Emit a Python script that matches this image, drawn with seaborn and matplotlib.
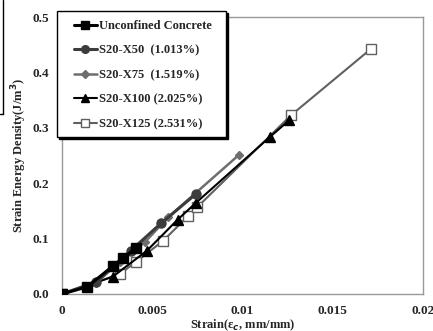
import matplotlib
matplotlib.use("Agg")
import matplotlib.pyplot as plt
import matplotlib.patches as mpatches
import matplotlib.lines as mlines
import seaborn as sns
import pandas as pd

sns.set_style("white")
plt.rcParams['font.family'] = ['Liberation Serif', 'DejaVu Serif']
plt.rcParams['font.weight'] = 'bold'

labels = ["Unconfined Concrete", "S20-X50  (1.013%)", "S20-X75  (1.519%)",
          "S20-X100 (2.025%)", "S20-X125 (2.531%)"]

unc_x = [0, 0.0014, 0.0028, 0.0034, 0.0041]
unc_y = [0, 0.013, 0.050, 0.065, 0.083]
x50_x = [0, 0.0019, 0.0038, 0.0055, 0.0074]
x50_y = [0, 0.022, 0.078, 0.128, 0.180]
x75_x = [0, 0.0019, 0.0032, 0.0046, 0.0059, 0.0098]
x75_y = [0, 0.020, 0.058, 0.094, 0.139, 0.251]
x100_x = [0, 0.0028, 0.0047, 0.0064, 0.0074, 0.0115, 0.0126]
x100_y = [0, 0.031, 0.078, 0.134, 0.164, 0.283, 0.314]
x125_x = [0, 0.0032, 0.0041, 0.0056, 0.0070, 0.0075, 0.0127, 0.0171]
x125_y = [0, 0.036, 0.058, 0.096, 0.141, 0.157, 0.323, 0.442]

series = [(unc_x, unc_y), (x50_x, x50_y), (x75_x, x75_y), (x100_x, x100_y), (x125_x, x125_y)]
styles = [
    dict(color="#000000", marker="s", markersize=7.5, mfc="#000000", mec="#000000", lw=2.2),
    dict(color="#3c3c3c", marker="o", markersize=6.5, mfc="#3c3c3c", mec="#3c3c3c", lw=2.2),
    dict(color="#6e6e6e", marker="D", markersize=4.5, mfc="#6e6e6e", mec="#6e6e6e", lw=1.8),
    dict(color="#000000", marker="^", markersize=6.5, mfc="#000000", mec="#000000", lw=1.5),
    dict(color="#606060", marker="s", markersize=6.5, mfc="white", mec="#606060", lw=1.5),
]

W, H = 433, 331
fig = plt.figure(figsize=(W/100, H/100), dpi=100)
ax = fig.add_axes([62/W, 1-294/H, (423-62)/W, (294-17)/H])

order = [4, 3, 2, 1, 0]
handles = {}
for i in order:
    xs, ys = series[i]
    df = pd.DataFrame({"x": xs, "y": ys})
    st = styles[i]
    sns.lineplot(data=df, x="x", y="y", ax=ax, sort=False, color=st["color"],
                 marker=st["marker"], markersize=st["markersize"],
                 markerfacecolor=st["mfc"], markeredgecolor=st["mec"],
                 markeredgewidth=1.0, linewidth=st["lw"], zorder=3 + (4 - i))
    handles[i] = ax.lines[-1]

ax.set_xlim(0, 0.02)
ax.set_ylim(0, 0.5)
ax.set_xticks([0, 0.005, 0.01, 0.015, 0.02])
ax.set_xticklabels(["0", "0.005", "0.01", "0.015", "0.02"])
ax.set_yticks([0, 0.1, 0.2, 0.3, 0.4, 0.5])
ax.set_yticklabels(["0.0", "0.1", "0.2", "0.3", "0.4", "0.5"])
ax.tick_params(axis="x", direction="in", length=4, color="#999999", labelsize=9.5, pad=8)
ax.tick_params(axis="y", direction="in", length=4, color="#999999", labelsize=9.5, pad=9)
for lab in ax.get_xticklabels() + ax.get_yticklabels():
    lab.set_fontweight("bold")
for sp in ax.spines.values():
    sp.set_color("#999999")
    sp.set_linewidth(1.0)

ax.set_xlabel("Strain(ε$_c$, mm/mm)", fontsize=9, fontweight="bold", labelpad=0)
ax.set_ylabel("Strain Energy Density(J/m$^3$)", fontsize=9, fontweight="bold", labelpad=3)

# legend box (frame drawn separately, with dark shadow)
lx0, ly0, lx1, ly1 = 57, 11, 226, 137
fig.patches.append(mpatches.Rectangle(((lx0 + 2) / W, 1 - (ly1 + 2) / H),
                                      (lx1 - lx0) / W, (ly1 - ly0) / H,
                                      transform=fig.transFigure, facecolor="black",
                                      edgecolor="black", zorder=8))
fig.patches.append(mpatches.Rectangle((lx0 / W, 1 - ly1 / H),
                                      (lx1 - lx0) / W, (ly1 - ly0) / H,
                                      transform=fig.transFigure, facecolor="white",
                                      edgecolor="black", linewidth=1.0, zorder=9))

leg = fig.legend([handles[i] for i in range(5)], labels,
                 loc="upper left", bbox_to_anchor=(74 / W, 1 - 20 / H),
                 frameon=False, borderpad=0, labelspacing=1.0,
                 handlelength=1.8, handletextpad=0.2, borderaxespad=0,
                 markerscale=0.85,
                 prop={'weight': 'bold', 'size': 9})
leg.set_zorder(10)

# cropped neighbouring frame edge at far left
fig.add_artist(mlines.Line2D([3 / W, 3 / W], [1.0, 1 - 114 / H], transform=fig.transFigure,
                             color="black", linewidth=1.0))
fig.add_artist(mlines.Line2D([0, 3 / W], [1 - 114 / H, 1 - 114 / H], transform=fig.transFigure,
                             color="black", linewidth=1.0))

fig.savefig("out.png", dpi=100)
